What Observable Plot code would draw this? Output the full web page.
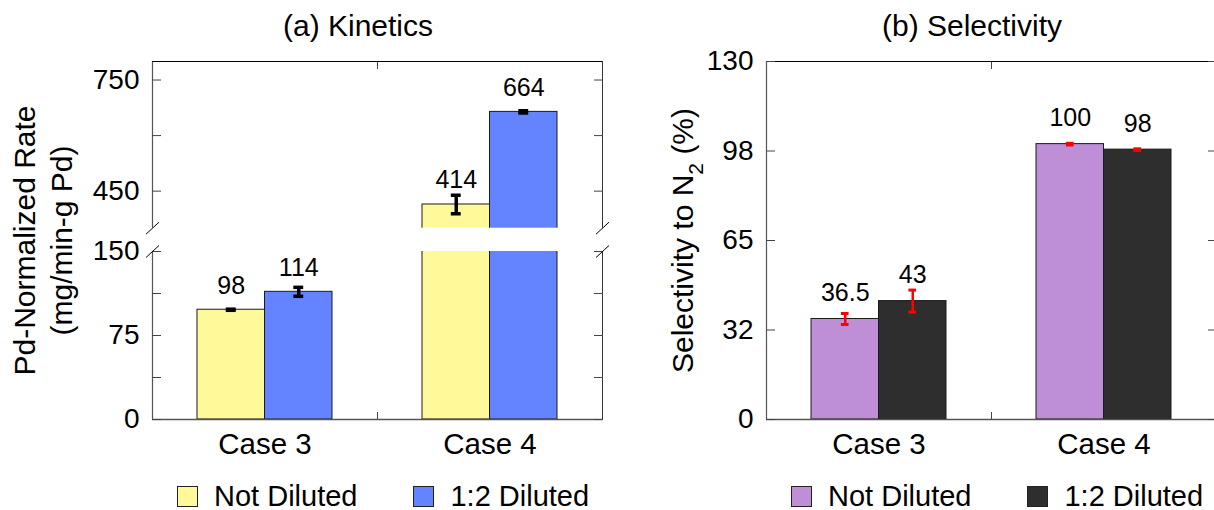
<!DOCTYPE html>
<html>
<head>
<meta charset="utf-8">
<script src="https://cdn.jsdelivr.net/npm/d3@7"></script>
<script src="https://cdn.jsdelivr.net/npm/@observablehq/plot@0.6"></script>
<style>
  html, body { margin: 0; padding: 0; background: #fff; }
  body { width: 1214px; height: 510px; overflow: hidden; position: relative;
         font-family: "Liberation Sans", Arial, sans-serif; color: #000; }
  .panel { position: absolute; top: 0; width: 614px; height: 510px; }
  .panel svg { position: absolute; left: 0; top: 0; }
  .title { position: absolute; top: 11px; left: 358px; transform: translateX(-50%);
           font-size: 30px; line-height: 30px; white-space: nowrap; }
  .legend { position: absolute; top: 482px; left: 177px; display: flex; gap: 56px;
            font-size: 29px; line-height: 29px; white-space: nowrap; }
  .legend .item { display: flex; align-items: center; gap: 16px; }
  .legend .sw { width: 19px; height: 19px; border: 1px solid #222; box-sizing: content-box; }
</style>
</head>
<body>
<div class="panel" id="left"></div>
<div class="panel" id="right" style="left:614px"></div>
<script>
// Categories and series
const cases = ["Case 3", "Case 4"];
const series = ["Not Diluted", "1:2 Diluted"];

// (a) Kinetics — Pd-normalized rate (mg/min-g Pd), one array per series, ordered by case
const rateNotDiluted = [98, 414];
const rateDiluted = [114, 664];
const rateErrNotDiluted = [0.5, 25];
const rateErrDiluted = [4, 3];

// (b) Selectivity to N2 (%)
const selNotDiluted = [36.5, 100];
const selDiluted = [43, 98];
const selErrNotDiluted = [2, 0.3];
const selErrDiluted = [4, 0.3];

// Axis ticks and their labels
const rateBreak = [150, 350];          // values skipped by the broken axis
const rateMax = 800;
const rateTicks = [0, 75, 150, 450, 750];
const rateTickLabels = ["0", "75", "150", "450", "750"];
const rateMinorTicks = [37.5, 112.5, 600];
const selMax = 130;
const selTicks = [0, 32.5, 65, 97.5, 130];
const selTickLabels = ["0", "32", "65", "98", "130"];

const titles = ["(a) Kinetics", "(b) Selectivity"];
const rateLabel = "Pd-Normalized Rate\n(mg/min-g Pd)";
const selLabelParts = ["Selectivity to N", "2", " (%)"];

const kineticsColors = ["#FFF99A", "#6383FF"];
const selectivityColors = ["#BE8ED6", "#2E2E2E"];

// Layout of bars inside each category (in category units: one case spans 1)
const OUTER = 0.2, BAR = 0.3;
const barX1 = d => d.ci + OUTER + d.si * BAR;
const barX2 = d => barX1(d) + BAR;
const barXC = d => barX1(d) + BAR / 2;

function makeRows(values, errors) {
  const rows = [];
  cases.forEach((c, ci) => series.forEach((s, si) =>
    rows.push({case: c, series: s, ci, si, value: values[si][ci], err: errors[si][ci]})));
  return rows;
}

const W = 614, H = 470, MT = 61, MB = 51, ML = 152, MR = 12;
const FONT = "'Liberation Sans', Arial, sans-serif";

// A short "/" used to mark the axis break
const slash = {draw(ctx) { ctx.moveTo(-6.5, 6); ctx.lineTo(6.5, -6); }};

function drawPanel(o) {
  const labelOf = new Map(o.ticks.map((t, i) => [t, o.tickLabels[i]]));
  const allTicks = [...o.ticks, ...o.minorTicks];
  const marks = [
    Plot.rectY(o.rows, {x1: barX1, x2: barX2, y1: () => 0, y2: "value", fill: "series",
      stroke: "#1a1a1a", strokeWidth: 1}),
    // error bars
    Plot.ruleX(o.rows, {x: barXC, y1: d => d.value - d.err, y2: d => d.value + d.err,
      stroke: o.errColor, strokeWidth: o.errWidth}),
    Plot.ruleY(o.rows, {y: d => d.value + d.err, x1: d => barXC(d) - o.capHalf,
      x2: d => barXC(d) + o.capHalf, stroke: o.errColor, strokeWidth: o.capWidth}),
    Plot.ruleY(o.rows, {y: d => d.value - d.err, x1: d => barXC(d) - o.capHalf,
      x2: d => barXC(d) + o.capHalf, stroke: o.errColor, strokeWidth: o.capWidth}),
    // value labels
    Plot.text(o.rows, {x: barXC, y: "value", text: d => String(d.value), dy: o.labelDy,
      fontSize: 25}),
    // frame
    Plot.ruleX([0], {y1: () => 0, y2: () => o.yMax, stroke: "#555", strokeWidth: 1.2}),
    Plot.ruleX([cases.length], {y1: () => 0, y2: () => o.yMax, stroke: "#333", strokeWidth: 1}),
    Plot.ruleY([o.yMax], {stroke: "#000", strokeWidth: 1.2}),
    Plot.ruleY([0], {stroke: "#555", strokeWidth: 1.6}),
    // inward ticks on both sides and the category divider
    Plot.axisY({anchor: "left", ticks: allTicks, tickSize: -9, tickFormat: () => "", label: null, stroke: "#444"}),
    Plot.axisY({anchor: "right", ticks: allTicks, tickSize: -9, tickFormat: () => "", label: null, stroke: "#444"}),
    Plot.axisX({anchor: "bottom", ticks: [1], tickSize: -7, tickFormat: () => "", label: null, stroke: "#444"}),
    Plot.axisX({anchor: "top", ticks: [1], tickSize: -7, tickFormat: () => "", label: null, stroke: "#444"}),
    // tick labels
    Plot.axisY({anchor: "left", ticks: o.ticks, tickSize: 0, tickPadding: 13,
      tickFormat: d => labelOf.get(d), fontSize: 28, label: null}),
    Plot.axisX({anchor: "bottom", ticks: cases.map((c, i) => i + 0.5), tickSize: 0, tickPadding: 14,
      tickFormat: d => cases[Math.floor(d)], fontSize: 29.5, label: null}),
    // y-axis title
    Plot.text([o.yLabel], {frameAnchor: "left", rotate: -90, dx: o.yLabelDx, lineAnchor: "bottom",
      textAnchor: "middle", lineHeight: 1.22, fontSize: 30})
  ];
  if (o.breakBand) {
    const [b0, b1] = o.breakBand;
    marks.push(
      Plot.rectY([o.breakBand], {x1: () => 0, x2: () => cases.length, y1: () => b0, y2: () => b1,
        fill: "white", insetLeft: -4, insetRight: -4}),
      Plot.dot([0, cases.length].flatMap(x => [{x, y: b0}, {x, y: b1}]),
        {x: "x", y: "y", symbol: slash, fill: "none", stroke: "#000", strokeWidth: 1})
    );
  }
  return Plot.plot({
    width: W, height: H,
    marginTop: MT, marginBottom: MB, marginLeft: ML, marginRight: MR,
    style: {fontFamily: FONT, fontSize: "28px", color: "#000", background: "transparent", overflow: "visible"},
    x: {type: "linear", domain: [0, cases.length]},
    y: o.y,
    color: {domain: series, range: o.colors},
    marks
  });
}

// (a) Kinetics with a broken y axis: lower part 0–150, upper part 350–800
const left = drawPanel({
  rows: makeRows([rateNotDiluted, rateDiluted], [rateErrNotDiluted, rateErrDiluted]),
  colors: kineticsColors,
  y: {type: "linear", domain: [0, rateBreak[0], rateBreak[1], rateMax], range: [H - MB, 251, 227.7, MT]},
  yMax: rateMax,
  ticks: rateTicks, tickLabels: rateTickLabels, minorTicks: rateMinorTicks,
  errColor: "#000", errWidth: 3.5, capHalf: 0.022, capWidth: 3.5, labelDy: -24,
  yLabel: rateLabel, yLabelDx: -81,
  breakBand: rateBreak
});

// (b) Selectivity
const right = drawPanel({
  rows: makeRows([selNotDiluted, selDiluted], [selErrNotDiluted, selErrDiluted]),
  colors: selectivityColors,
  y: {type: "linear", domain: [0, selMax]},
  yMax: selMax,
  ticks: selTicks, tickLabels: selTickLabels, minorTicks: [],
  errColor: "#FF0000", errWidth: 2.5, capHalf: 0.017, capWidth: 3, labelDy: -26,
  yLabel: selLabelParts.join(""), yLabelDx: -74
});

// subscript in "N2"
d3.select(right).selectAll("text")
  .filter(function() { return this.textContent === selLabelParts.join(""); })
  .each(function() {
    const t = d3.select(this);
    t.text(null);
    t.append("tspan").text(selLabelParts[0]);
    t.append("tspan").attr("dy", 10).attr("font-size", 21).text(selLabelParts[1]);
    t.append("tspan").attr("dy", -10).text(selLabelParts[2]);
  });

function addPanel(id, svg, title, colors) {
  const host = document.getElementById(id);
  host.appendChild(svg);
  const t = document.createElement("div");
  t.className = "title";
  t.textContent = title;
  host.appendChild(t);
  const lg = document.createElement("div");
  lg.className = "legend";
  series.forEach((s, i) => {
    const item = document.createElement("div");
    item.className = "item";
    const sw = document.createElement("span");
    sw.className = "sw";
    sw.style.background = colors[i];
    const label = document.createElement("span");
    label.textContent = s;
    item.append(sw, label);
    lg.appendChild(item);
  });
  host.appendChild(lg);
}

addPanel("left", left, titles[0], kineticsColors);
addPanel("right", right, titles[1], selectivityColors);
</script>
</body>
</html>
